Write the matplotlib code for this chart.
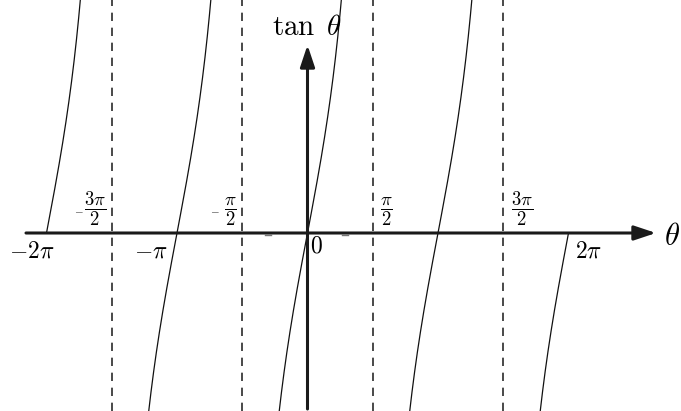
import numpy as np
import matplotlib.pyplot as plt

plt.rcParams['mathtext.fontset'] = 'cm'
plt.rcParams['font.family'] = ['DejaVu Serif']

pi = np.pi

# asymptotes of tan and the branches that are drawn
asymptotes = [-3 * pi / 2, -pi / 2, pi / 2, 3 * pi / 2]
branch_lo = [-2 * pi, -3 * pi / 2, -pi / 2, pi / 2, 3 * pi / 2]
branch_hi = [-3 * pi / 2, -pi / 2, pi / 2, 3 * pi / 2, 2 * pi]

# fraction labels above the axis, labels below it
top_txt = [r'$\dfrac{3\pi}{2}$', r'$\dfrac{\pi}{2}$', r'$\dfrac{\pi}{2}$', r'$\dfrac{3\pi}{2}$']
top_neg = [True, True, False, False]
low_txt = [r'$-2\pi$', r'$-\pi$', r'$0$', r'$2\pi$']

# px -> data helpers (reference: origin at (307.5, 233), pi = 130.5 px, 220 px per unit)
def dx(px):
    return (px - 307.5) / 130.5 * pi

def dy(py):
    return (233 - py) / 220.0

fig = plt.figure(figsize=(6.81, 4.11), dpi=100)
ax = fig.add_axes([0, 0, 1, 1])
ax.set_xlim(dx(0), dx(681))
ax.set_ylim(dy(411), dy(0))
ax.axis('off')

# tan curve, one branch at a time
for lo, hi in zip(branch_lo, branch_hi):
    a = lo if lo == -2 * pi else lo + 1e-3
    b = hi if hi == 2 * pi else hi - 1e-3
    t = np.linspace(a, b, 800)
    ax.plot(t, np.tan(t), color='#111111', lw=0.9)

for a in asymptotes:
    ax.axvline(a, color='#2a2a2a', lw=1.2, ls=(0, (5, 4)))

# axes with arrows
arrow = dict(arrowstyle='-|>,head_length=0.6,head_width=0.2', lw=2.2,
             color='#1a1a1a', mutation_scale=22, shrinkA=0, shrinkB=0)
ax.annotate('', xy=(dx(656), 0), xytext=(dx(26), 0), arrowprops=arrow)
ax.annotate('', xy=(0, dy(45)), xytext=(0, dy(409)), arrowprops=arrow)

# faint marks next to the origin
for m in [268, 345]:
    ax.plot([dx(m - 3), dx(m + 3)], [dy(235), dy(235)], color='#777777', lw=1.0)

# fractions: right of the line for positive, left of it (with a small minus) for negative
frac_edge = [106, 237, 380, 511]
minus_at = [79, 214.5]
for i, s in enumerate(top_txt):
    if top_neg[i]:
        ax.text(dx(frac_edge[i]), dy(228), s, ha='right', va='bottom', fontsize=13.5)
        ax.text(dx(minus_at[i]), dy(210), r'$-$', ha='center', va='center', fontsize=8)
    else:
        ax.text(dx(frac_edge[i]), dy(228), s, ha='left', va='bottom', fontsize=13.5)

ax.text(dx(55), dy(258), low_txt[0], ha='right', va='baseline', fontsize=17)
ax.text(dx(168), dy(258), low_txt[1], ha='right', va='baseline', fontsize=17)
ax.text(dx(310), dy(252), low_txt[2], ha='left', va='baseline', fontsize=17)
ax.text(dx(575), dy(258), low_txt[3], ha='left', va='baseline', fontsize=17)

ax.text(dx(664), dy(236.5), r'$\theta$', ha='left', va='center', fontsize=22)
ax.text(dx(307.5), dy(35), r'$\tan\ \theta$', ha='center', va='baseline', fontsize=21)

fig.savefig('out.png', dpi=100)
